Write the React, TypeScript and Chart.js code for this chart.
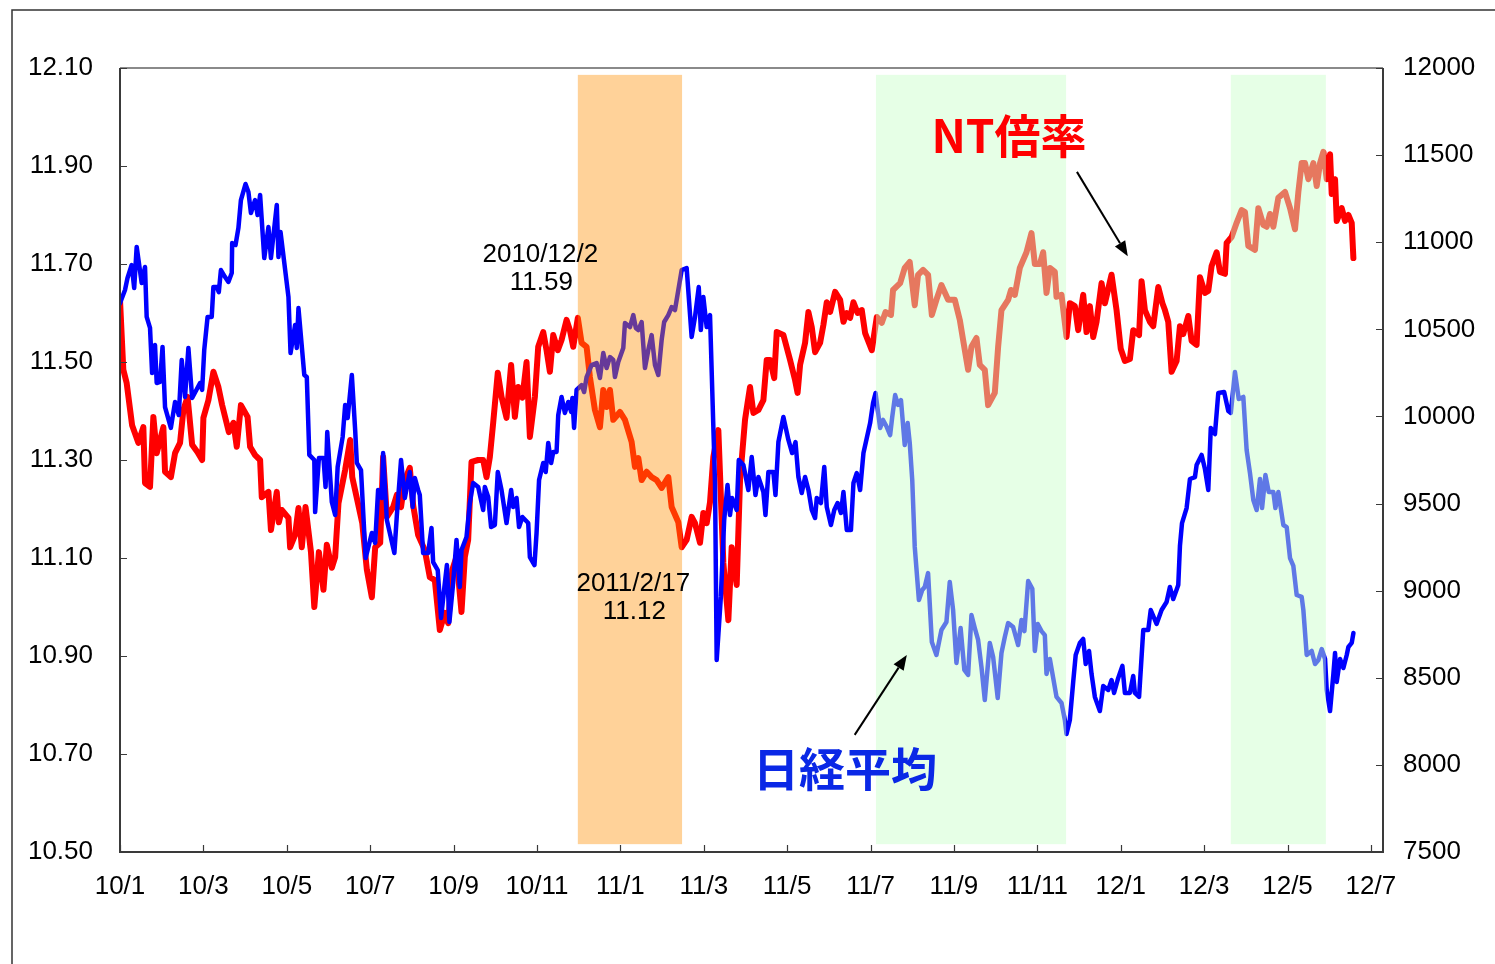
import React, { useEffect, useRef } from "react";
import { Chart, registerables } from "chart.js";

Chart.register(...registerables);

// ---------- data ----------
// x positions are months elapsed since January 2010 (0 = 2010/1/1)
const xTickLabels = ["10/1", "10/3", "10/5", "10/7", "10/9", "10/11", "11/1", "11/3", "11/5", "11/7", "11/9", "11/11", "12/1", "12/3", "12/5", "12/7"];
const xTickMonths = [0, 2, 4, 6, 8, 10, 12, 14, 16, 18, 20, 22, 24, 26, 28, 30];
const leftTicks = [10.5, 10.7, 10.9, 11.1, 11.3, 11.5, 11.7, 11.9, 12.1];
const rightTicks = [7500, 8000, 8500, 9000, 9500, 10000, 10500, 11000, 11500, 12000];

// NT倍率 (left axis)
const ntMonths = [
  0.00, 0.08, 0.16, 0.29, 0.44, 0.56, 0.60, 0.72, 0.80, 0.88, 1.04, 1.08, 1.22, 1.32, 1.44, 1.52, 1.62, 1.73, 1.86, 1.97,
  2.00, 2.12, 2.24, 2.36, 2.45, 2.61, 2.72, 2.80, 2.90, 3.06, 3.12, 3.24, 3.36, 3.40, 3.56, 3.62, 3.76, 3.81, 3.88, 4.04,
  4.08, 4.20, 4.28, 4.36, 4.45, 4.58, 4.66, 4.77, 4.88, 4.96, 5.08, 5.16, 5.24, 5.40, 5.52, 5.57, 5.68, 5.81, 5.92, 6.04,
  6.12, 6.24, 6.31, 6.40, 6.55, 6.64, 6.74, 6.83, 6.95, 7.03, 7.15, 7.31, 7.43, 7.55, 7.67, 7.79, 7.87, 7.97, 8.07, 8.19,
  8.27, 8.35, 8.43, 8.59, 8.71, 8.79, 8.87, 8.95, 9.06, 9.15, 9.27, 9.38, 9.47, 9.55, 9.65, 9.75, 9.83, 9.95, 10.03, 10.15,
  10.23, 10.31, 10.39, 10.50, 10.59, 10.71, 10.79, 10.87, 10.98, 11.07, 11.19, 11.27, 11.39, 11.51, 11.59, 11.67, 11.75, 11.83, 11.99, 12.11,
  12.27, 12.35, 12.43, 12.51, 12.63, 12.75, 12.87, 12.99, 13.15, 13.23, 13.39, 13.47, 13.59, 13.71, 13.79, 13.91, 13.99, 14.07, 14.15, 14.23,
  14.35, 14.47, 14.59, 14.67, 14.79, 14.87, 14.99, 15.05, 15.11, 15.19, 15.31, 15.43, 15.51, 15.59, 15.69, 15.75, 15.91, 16.07, 16.19, 16.25,
  16.31, 16.43, 16.51, 16.59, 16.67, 16.79, 16.87, 16.95, 17.03, 17.15, 17.27, 17.35, 17.43, 17.51, 17.59, 17.69, 17.79, 17.87, 18.03, 18.15,
  18.27, 18.36, 18.49, 18.54, 18.71, 18.82, 18.94, 19.06, 19.14, 19.26, 19.38, 19.47, 19.58, 19.70, 19.86, 20.02, 20.14, 20.22, 20.34, 20.42,
  20.54, 20.62, 20.74, 20.82, 20.98, 21.06, 21.14, 21.30, 21.37, 21.46, 21.58, 21.74, 21.86, 21.94, 22.06, 22.14, 22.22, 22.30, 22.42, 22.46,
  22.58, 22.70, 22.78, 22.90, 22.98, 23.10, 23.18, 23.26, 23.34, 23.42, 23.54, 23.62, 23.78, 23.90, 24.00, 24.10, 24.22, 24.30, 24.44, 24.50,
  24.58, 24.70, 24.78, 24.90, 25.00, 25.06, 25.14, 25.22, 25.34, 25.42, 25.50, 25.62, 25.70, 25.82, 25.90, 26.02, 26.10, 26.18, 26.30, 26.38,
  26.50, 26.54, 26.66, 26.78, 26.90, 26.98, 27.06, 27.22, 27.30, 27.42, 27.50, 27.58, 27.66, 27.78, 27.94, 28.06, 28.18, 28.26, 28.34, 28.42,
  28.50, 28.62, 28.70, 28.78, 28.86, 28.94, 29.02, 29.06, 29.14, 29.18, 29.30, 29.38, 29.46, 29.54, 29.58,
];
const ntValues = [
  11.627, 11.484, 11.457, 11.371, 11.335, 11.367, 11.253, 11.245, 11.388, 11.314, 11.367, 11.276, 11.265, 11.314, 11.335, 11.402, 11.429, 11.331, 11.316, 11.300,
  11.386, 11.422, 11.480, 11.449, 11.412, 11.357, 11.376, 11.327, 11.412, 11.388, 11.327, 11.310, 11.300, 11.224, 11.235, 11.157, 11.235, 11.173, 11.198, 11.182,
  11.122, 11.147, 11.202, 11.122, 11.204, 11.112, 11.000, 11.112, 11.035, 11.127, 11.080, 11.102, 11.212, 11.280, 11.341, 11.265, 11.222, 11.171, 11.076, 11.020,
  11.122, 11.131, 11.306, 11.184, 11.204, 11.229, 11.204, 11.259, 11.284, 11.208, 11.147, 11.116, 11.061, 11.055, 10.953, 10.988, 10.967, 11.076, 11.102, 10.990,
  11.102, 11.137, 11.296, 11.300, 11.300, 11.265, 11.306, 11.376, 11.478, 11.429, 11.386, 11.494, 11.388, 11.449, 11.427, 11.500, 11.347, 11.429, 11.531, 11.561,
  11.524, 11.480, 11.555, 11.524, 11.545, 11.586, 11.565, 11.531, 11.590, 11.539, 11.531, 11.469, 11.402, 11.367, 11.443, 11.408, 11.443, 11.382, 11.398, 11.382,
  11.337, 11.286, 11.304, 11.259, 11.276, 11.265, 11.259, 11.243, 11.265, 11.204, 11.173, 11.122, 11.137, 11.184, 11.171, 11.131, 11.192, 11.171, 11.214, 11.306,
  11.361, 11.090, 10.973, 11.122, 11.045, 11.259, 11.382, 11.416, 11.449, 11.396, 11.402, 11.422, 11.504, 11.504, 11.467, 11.561, 11.555, 11.504, 11.463, 11.437,
  11.494, 11.539, 11.602, 11.571, 11.520, 11.539, 11.576, 11.622, 11.602, 11.643, 11.627, 11.582, 11.600, 11.590, 11.622, 11.600, 11.606, 11.559, 11.524, 11.592,
  11.580, 11.602, 11.596, 11.647, 11.661, 11.692, 11.704, 11.616, 11.678, 11.688, 11.678, 11.596, 11.627, 11.657, 11.627, 11.627, 11.586, 11.545, 11.484, 11.531,
  11.549, 11.494, 11.484, 11.412, 11.437, 11.531, 11.606, 11.627, 11.647, 11.637, 11.692, 11.724, 11.763, 11.700, 11.700, 11.724, 11.641, 11.692, 11.684, 11.633,
  11.637, 11.551, 11.620, 11.614, 11.565, 11.637, 11.561, 11.614, 11.551, 11.582, 11.661, 11.620, 11.678, 11.606, 11.527, 11.502, 11.506, 11.565, 11.555, 11.665,
  11.606, 11.582, 11.573, 11.653, 11.620, 11.606, 11.582, 11.480, 11.502, 11.573, 11.557, 11.594, 11.543, 11.535, 11.673, 11.641, 11.645, 11.696, 11.724, 11.684,
  11.680, 11.743, 11.755, 11.784, 11.810, 11.806, 11.737, 11.729, 11.814, 11.780, 11.776, 11.802, 11.776, 11.835, 11.847, 11.814, 11.771, 11.847, 11.906, 11.906,
  11.873, 11.906, 11.859, 11.906, 11.929, 11.873, 11.924, 11.843, 11.873, 11.788, 11.814, 11.788, 11.800, 11.784, 11.712,
];

// 日経平均 (right axis)
const nikkeiMonths = [
  0.00, 0.12, 0.18, 0.28, 0.34, 0.40, 0.52, 0.60, 0.64, 0.72, 0.77, 0.84, 0.88, 0.96, 1.02, 1.08, 1.22, 1.32, 1.41, 1.48,
  1.56, 1.64, 1.73, 1.92, 1.97, 2.02, 2.10, 2.20, 2.24, 2.32, 2.37, 2.42, 2.52, 2.60, 2.68, 2.69, 2.77, 2.84, 2.90, 3.01,
  3.08, 3.14, 3.24, 3.30, 3.36, 3.46, 3.56, 3.62, 3.76, 3.80, 3.85, 4.04, 4.09, 4.20, 4.24, 4.28, 4.42, 4.48, 4.54, 4.66,
  4.68, 4.77, 4.88, 4.93, 4.97, 5.08, 5.16, 5.22, 5.34, 5.40, 5.46, 5.56, 5.64, 5.68, 5.78, 5.89, 6.04, 6.12, 6.19, 6.28,
  6.31, 6.40, 6.58, 6.64, 6.74, 6.83, 6.95, 7.02, 7.07, 7.15, 7.19, 7.27, 7.39, 7.47, 7.51, 7.62, 7.70, 7.78, 7.84, 7.90,
  7.99, 8.07, 8.15, 8.19, 8.31, 8.39, 8.47, 8.59, 8.71, 8.75, 8.83, 8.90, 8.99, 9.06, 9.15, 9.27, 9.38, 9.43, 9.51, 9.57,
  9.65, 9.79, 9.83, 9.94, 9.99, 10.05, 10.15, 10.21, 10.27, 10.34, 10.39, 10.47, 10.51, 10.59, 10.67, 10.75, 10.82, 10.85, 10.89, 10.95,
  11.07, 11.13, 11.19, 11.31, 11.43, 11.51, 11.59, 11.67, 11.75, 11.83, 11.87, 11.95, 12.07, 12.11, 12.23, 12.31, 12.37, 12.43, 12.51, 12.59,
  12.67, 12.75, 12.83, 12.91, 12.99, 13.05, 13.15, 13.23, 13.31, 13.47, 13.59, 13.71, 13.79, 13.88, 13.93, 13.99, 14.07, 14.15, 14.27, 14.31,
  14.41, 14.49, 14.57, 14.63, 14.68, 14.79, 14.84, 14.95, 15.07, 15.15, 15.24, 15.31, 15.43, 15.48, 15.55, 15.67, 15.72, 15.79, 15.91, 16.03,
  16.12, 16.20, 16.27, 16.35, 16.43, 16.51, 16.59, 16.67, 16.71, 16.81, 16.89, 16.95, 17.05, 17.13, 17.21, 17.29, 17.35, 17.43, 17.53, 17.59,
  17.67, 17.75, 17.83, 17.91, 17.99, 18.06, 18.12, 18.23, 18.30, 18.39, 18.47, 18.52, 18.59, 18.66, 18.73, 18.82, 18.89, 18.94, 19.00, 19.06,
  19.16, 19.24, 19.30, 19.38, 19.47, 19.58, 19.70, 19.82, 19.90, 19.98, 20.06, 20.16, 20.25, 20.34, 20.42, 20.50, 20.58, 20.66, 20.74, 20.86,
  20.94, 21.05, 21.14, 21.22, 21.30, 21.42, 21.54, 21.62, 21.69, 21.78, 21.88, 21.94, 22.01, 22.10, 22.18, 22.22, 22.30, 22.38, 22.46, 22.58,
  22.66, 22.70, 22.78, 22.86, 22.92, 23.02, 23.10, 23.16, 23.24, 23.30, 23.38, 23.50, 23.58, 23.70, 23.78, 23.84, 23.94, 24.04, 24.10, 24.22,
  24.30, 24.34, 24.44, 24.54, 24.66, 24.72, 24.86, 24.98, 25.10, 25.18, 25.26, 25.38, 25.42, 25.47, 25.58, 25.66, 25.78, 25.82, 25.94, 26.02,
  26.10, 26.16, 26.26, 26.34, 26.48, 26.58, 26.64, 26.74, 26.83, 26.94, 27.02, 27.10, 27.18, 27.26, 27.34, 27.39, 27.47, 27.55, 27.66, 27.71,
  27.78, 27.90, 27.98, 28.06, 28.14, 28.22, 28.34, 28.38, 28.46, 28.58, 28.66, 28.74, 28.82, 28.90, 28.94, 29.02, 29.10, 29.14, 29.18, 29.26,
  29.34, 29.42, 29.46, 29.54, 29.58,
];
const nikkeiValues = [
  10650, 10726, 10795, 10869, 10737, 10973, 10766, 10858, 10571, 10508, 10249, 10410, 10192, 10198, 10399, 10054, 9934, 10083, 10008, 10324,
  10112, 10393, 10106, 10192, 10152, 10381, 10571, 10571, 10743, 10743, 10714, 10840, 10800, 10772, 10823, 10995, 10984, 11082, 11242, 11334,
  11288, 11168, 11242, 11156, 11271, 10909, 11087, 10909, 11214, 10915, 11059, 10686, 10364, 10525, 10393, 10622, 10238, 10226, 9779, 9750,
  9451, 9761, 9761, 9595, 9911, 9509, 9434, 9710, 9882, 10066, 9991, 10238, 9922, 9733, 9692, 9187, 9331, 9274, 9578, 9532,
  9790, 9406, 9216, 9434, 9750, 9532, 9681, 9480, 9647, 9578, 9549, 9216, 9216, 9360, 9164, 9118, 8843, 9021, 9147, 8820,
  9044, 9291, 9021, 9233, 9308, 9503, 9618, 9595, 9463, 9595, 9538, 9365, 9377, 9681, 9578, 9388, 9578, 9480, 9532, 9365,
  9423, 9388, 9193, 9147, 9331, 9635, 9733, 9681, 9848, 9733, 9796, 9796, 10008, 10112, 10020, 10083, 10026, 10106, 9934, 10152,
  10180, 10140, 10226, 10295, 10307, 10221, 10364, 10278, 10341, 10324, 10226, 10312, 10393, 10536, 10513, 10582, 10508, 10496, 10542, 10278,
  10381, 10467, 10295, 10238, 10439, 10542, 10582, 10628, 10611, 10840, 10852, 10456, 10571, 10743, 10496, 10686, 10513, 10582, 9618, 8602,
  8964, 9406, 9607, 9434, 9532, 9463, 9750, 9721, 9578, 9767, 9549, 9652, 9566, 9434, 9681, 9681, 9549, 9853, 9997, 9865,
  9790, 9853, 9652, 9561, 9652, 9578, 9463, 9417, 9532, 9503, 9710, 9480, 9377, 9463, 9503, 9446, 9566, 9348, 9348, 9618,
  9675, 9578, 9790, 9876, 9962, 10077, 10135, 9934, 9980, 9939, 9893, 9997, 10123, 10066, 10094, 9836, 9962, 9848, 9635, 9251,
  8946, 9004, 9021, 9101, 8705, 8631, 8774, 8820, 9050, 8889, 8585, 8786, 8545, 8516, 8860, 8786, 8717, 8562, 8372, 8700,
  8619, 8384, 8642, 8734, 8814, 8791, 8688, 8832, 8768, 9055, 9010, 8654, 8809, 8768, 8745, 8522, 8608, 8499, 8390, 8355,
  8258, 8177, 8258, 8476, 8631, 8700, 8723, 8579, 8654, 8522, 8390, 8309, 8453, 8430, 8487, 8413, 8499, 8568, 8413, 8413,
  8510, 8413, 8390, 8774, 8774, 8889, 8809, 8889, 8935, 9021, 8952, 9033, 9256, 9388, 9474, 9641, 9652, 9721, 9779, 9698,
  9578, 9934, 9899, 10135, 10140, 10031, 10020, 10255, 10100, 10112, 9807, 9675, 9520, 9463, 9641, 9474, 9664, 9566, 9566, 9474,
  9566, 9377, 9365, 9187, 9142, 8975, 8964, 8889, 8631, 8654, 8579, 8602, 8665, 8608, 8430, 8309, 8522, 8642, 8476, 8608,
  8556, 8631, 8677, 8700, 8757,
];

// shaded periods (months since 2010/1)
const shadeStart = [10.98, 18.13, 26.64];
const shadeEnd = [13.48, 22.69, 28.92];
const shadeKind = ["orange", "green", "green"];

// callouts for the two extreme NT-ratio readings (placed in data units: month, NT ratio)
const calloutLines = [["2010/12/2", "11.59"], ["2011/2/17", "11.12"]];
const calloutMonths = [10.08, 12.31];
const calloutValues = [11.72, 11.049];

const X_MAX = 30.29;
const FONT = "'Liberation Sans Narrow', 'Liberation Sans', Arial, sans-serif";
const CJK = "'Noto Sans CJK JP', 'Noto Sans', sans-serif";

function arrow(ctx: CanvasRenderingContext2D, x1: number, y1: number, x2: number, y2: number) {
  const ang = Math.atan2(y2 - y1, x2 - x1);
  const headLen = 15;
  const headW = 6;
  const bx = x2 - headLen * Math.cos(ang);
  const by = y2 - headLen * Math.sin(ang);
  ctx.beginPath();
  ctx.moveTo(x1, y1);
  ctx.lineTo(bx, by);
  ctx.stroke();
  ctx.beginPath();
  ctx.moveTo(x2, y2);
  ctx.lineTo(bx + headW * Math.sin(ang), by - headW * Math.cos(ang));
  ctx.lineTo(bx - headW * Math.sin(ang), by + headW * Math.cos(ang));
  ctx.closePath();
  ctx.fill();
}

const overlayPlugin = {
  id: "overlay",
  beforeDraw(chart: any) {
    const ctx = chart.ctx as CanvasRenderingContext2D;
    ctx.save();
    ctx.fillStyle = "#ffffff";
    ctx.fillRect(0, 0, chart.width, chart.height);
    ctx.strokeStyle = "#333333";
    ctx.lineWidth = 1.5;
    ctx.strokeRect(12, 10, chart.width + 50, chart.height + 50);
    ctx.restore();
  },
  afterDatasetsDraw(chart: any) {
    const ctx = chart.ctx as CanvasRenderingContext2D;
    const area = chart.chartArea;
    const xs = chart.scales.x;
    const yl = chart.scales.y;
    ctx.save();
    // shaded periods
    const top = yl.getPixelForValue(12.086);
    const bot = yl.getPixelForValue(10.516);
    shadeStart.forEach((s, i) => {
      const x1 = xs.getPixelForValue(s);
      const x2 = xs.getPixelForValue(shadeEnd[i]);
      ctx.fillStyle = shadeKind[i] === "orange" ? "rgba(255,142,0,0.4)" : "rgba(202,255,202,0.47)";
      ctx.fillRect(x1, top, x2 - x1, bot - top);
    });
    // plot frame
    ctx.lineWidth = 2;
    ctx.strokeStyle = "#8a8a8a";
    ctx.beginPath();
    ctx.moveTo(area.left, area.top);
    ctx.lineTo(area.right, area.top);
    ctx.stroke();
    ctx.strokeStyle = "#3a3a3a";
    ctx.beginPath();
    ctx.moveTo(area.left, area.top);
    ctx.lineTo(area.left, area.bottom);
    ctx.lineTo(area.right, area.bottom);
    ctx.lineTo(area.right, area.top);
    ctx.stroke();
    // inward ticks
    ctx.lineWidth = 1.2;
    ctx.beginPath();
    xTickMonths.forEach((m) => {
      const px = Math.round(xs.getPixelForValue(m)) + 0.5;
      ctx.moveTo(px, area.bottom);
      ctx.lineTo(px, area.bottom - 7);
    });
    leftTicks.forEach((v) => {
      const py = Math.round(yl.getPixelForValue(v)) + 0.5;
      ctx.moveTo(area.left, py);
      ctx.lineTo(area.left + 7, py);
    });
    rightTicks.forEach((v) => {
      const py = Math.round(chart.scales.y1.getPixelForValue(v)) + 0.5;
      ctx.moveTo(area.right, py);
      ctx.lineTo(area.right - 7, py);
    });
    ctx.stroke();

    // callouts
    ctx.fillStyle = "#000000";
    ctx.font = `26px ${FONT}`;
    ctx.textAlign = "center";
    ctx.textBaseline = "middle";
    calloutLines.forEach((lines, i) => {
      const cx = xs.getPixelForValue(calloutMonths[i]);
      const cy = yl.getPixelForValue(calloutValues[i]);
      lines.forEach((t, j) => ctx.fillText(t, cx + j * 1, cy + 1 + j * 28));
    });

    // series titles
    ctx.font = `bold 46px ${CJK}`;
    ctx.fillStyle = "#ff0000";
    ctx.fillText("NT倍率", xs.getPixelForValue(21.32), yl.getPixelForValue(11.963));
    ctx.fillStyle = "#0a28e6";
    ctx.fillText("日経平均", xs.getPixelForValue(17.39), yl.getPixelForValue(10.671));

    // arrows
    ctx.strokeStyle = "#000000";
    ctx.fillStyle = "#000000";
    ctx.lineWidth = 2;
    arrow(ctx, xs.getPixelForValue(22.95), yl.getPixelForValue(11.888), xs.getPixelForValue(24.17), yl.getPixelForValue(11.716));
    arrow(ctx, xs.getPixelForValue(17.62), yl.getPixelForValue(10.739), xs.getPixelForValue(18.87), yl.getPixelForValue(10.902));
    ctx.restore();
  },
};

export default function App() {
  const canvasRef = useRef<HTMLCanvasElement | null>(null);

  useEffect(() => {
    const canvas = canvasRef.current;
    if (!canvas) return;
    const ntData = ntMonths.map((m, i) => ({ x: m, y: ntValues[i] }));
    const nkData = nikkeiMonths.map((m, i) => ({ x: m, y: nikkeiValues[i] }));
    const tickFont = { family: FONT, size: 26 };

    const chart = new Chart(canvas, {
      type: "line",
      data: {
        datasets: [
          {
            label: "NT倍率",
            data: ntData,
            yAxisID: "y",
            borderColor: "#ff0000",
            borderWidth: 6,
            pointRadius: 0,
            tension: 0,
            borderJoinStyle: "round",
            borderCapStyle: "round",
            order: 2,
          },
          {
            label: "日経平均",
            data: nkData,
            yAxisID: "y1",
            borderColor: "#0000ff",
            borderWidth: 4.5,
            pointRadius: 0,
            tension: 0,
            borderJoinStyle: "round",
            borderCapStyle: "round",
            order: 1,
          },
        ],
      },
      options: {
        responsive: false,
        animation: false,
        layout: { padding: { top: 68, left: 0, right: 0, bottom: 0 } },
        plugins: { legend: { display: false }, tooltip: { enabled: false }, title: { display: false } },
        scales: {
          x: {
            type: "linear",
            position: "bottom",
            min: 0,
            max: X_MAX,
            grid: { display: false, drawTicks: false },
            border: { display: false },
            afterBuildTicks: (scale: any) => {
              scale.ticks = xTickMonths.map((v) => ({ value: v }));
            },
            afterFit: (scale: any) => {
              scale.height = 112;
            },
            ticks: {
              autoSkip: false,
              maxRotation: 0,
              minRotation: 0,
              padding: 19,
              color: "#000000",
              font: tickFont,
              callback: (v: any) => {
                const i = xTickMonths.indexOf(Number(v));
                return i >= 0 ? xTickLabels[i] : "";
              },
            },
          },
          y: {
            type: "linear",
            position: "left",
            min: 10.5,
            max: 12.1,
            grid: { display: false, drawTicks: false },
            border: { display: false },
            afterBuildTicks: (scale: any) => {
              scale.ticks = leftTicks.map((v) => ({ value: v }));
            },
            afterFit: (scale: any) => {
              scale.width = 120;
            },
            ticks: {
              padding: 27,
              color: "#000000",
              font: tickFont,
              callback: (v: any) => Number(v).toFixed(2),
            },
          },
          y1: {
            type: "linear",
            position: "right",
            min: 7500,
            max: 12000,
            grid: { display: false, drawTicks: false },
            border: { display: false },
            afterBuildTicks: (scale: any) => {
              scale.ticks = rightTicks.map((v) => ({ value: v }));
            },
            afterFit: (scale: any) => {
              scale.width = 112;
            },
            ticks: {
              padding: 20,
              color: "#000000",
              font: tickFont,
              callback: (v: any) => String(v),
            },
          },
        },
      },
      plugins: [overlayPlugin],
    } as any);

    return () => chart.destroy();
  }, []);

  return (
    <div style={{ position: "fixed", left: 0, top: 0, width: 1495, height: 964, background: "#ffffff" }}>
      <canvas ref={canvasRef} width={1495} height={964} style={{ display: "block", width: 1495, height: 964 }} />
    </div>
  );
}
